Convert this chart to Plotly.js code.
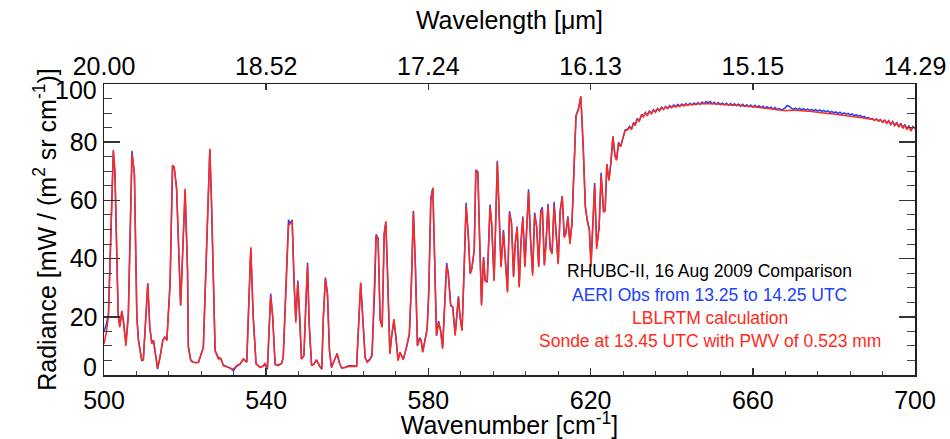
<!DOCTYPE html>
<html>
<head>
<meta charset="utf-8">
<script src="https://cdn.plot.ly/plotly-3.0.1.min.js"></script>
<style>html,body{margin:0;padding:0;background:#fff;}#chart{width:950px;height:439px;}</style>
</head>
<body>
<div id="chart"></div>
<script>
// Wavenumber [cm-1]
const wavenumber = [
500.0,500.5,501.1,501.7,502.3,502.7,503.5,503.9,504.4,504.8,505.4,506.0,506.9,507.5,508.1,508.5,509.3,509.7,510.8,511.3,
511.8,512.2,512.6,513.2,513.8,514.5,515.0,515.5,516.3,516.9,517.3,517.9,518.9,520.0,520.6,520.8,521.4,522.0,522.8,523.3,
524.5,525.3,526.1,526.5,527.4,528.2,528.8,529.4,530.2,531.1,531.9,532.7,533.5,534.4,535.2,536.2,536.8,537.5,538.5,539.1,
539.7,540.3,541.1,541.6,542.2,543.0,543.8,544.2,544.9,545.5,545.9,546.4,546.9,547.3,547.8,548.3,548.7,549.3,549.8,550.2,
550.6,551.2,551.8,552.4,553.1,553.7,554.1,554.6,555.1,555.6,556.1,557.0,557.5,558.0,558.6,559.4,560.3,561.1,562.3,562.8,
563.3,563.8,564.4,564.9,565.6,566.1,566.8,567.1,567.6,568.1,568.6,569.1,569.5,569.9,570.5,570.9,571.5,572.0,572.5,573.0,
573.4,573.8,574.6,575.3,575.8,576.3,576.8,577.3,577.8,578.2,578.6,579.2,579.7,580.1,580.6,581.1,581.6,582.0,582.5,583.0,
583.5,584.1,584.5,584.9,585.5,586.0,586.6,587.0,587.4,587.8,588.3,588.8,589.3,589.9,590.3,590.7,591.3,591.7,592.2,592.6,
593.1,593.6,594.0,594.5,595.2,595.6,596.2,597.0,597.4,597.9,598.5,598.9,599.5,600.0,600.5,601.0,601.4,601.9,602.4,602.8,
603.3,603.8,604.2,604.7,605.2,605.7,606.2,606.7,607.2,607.7,608.1,608.6,609.0,609.5,610.0,610.5,611.0,611.5,612.0,612.5,
613.0,613.5,613.9,614.4,614.9,615.4,615.9,616.4,617.0,617.6,618.2,618.7,619.2,619.7,620.1,620.5,621.0,621.5,622.1,622.6,
623.2,623.6,624.0,624.5,625.0,625.5,626.0,626.4,626.9,627.4,627.9,628.5,629.1,629.6,630.1,630.6,631.0,631.5,632.0,632.6,
633.0,633.5,634.0,634.5,635.0,635.5,636.0,636.5,637.0,637.5,638.0,638.5,639.0,639.5,640.0,640.5,641.0,641.5,642.0,642.5,
643.0,643.5,644.0,644.5,645.0,645.5,646.0,646.5,647.0,647.5,648.0,648.5,649.0,649.5,650.0,650.5,651.0,651.5,652.0,652.5,
653.0,653.5,654.0,654.5,655.0,655.5,656.0,656.5,657.0,657.5,658.0,658.5,659.0,659.5,660.0,660.5,661.0,661.5,662.0,662.5,
663.0,663.5,664.0,664.5,665.0,665.5,666.0,666.5,667.0,667.5,668.0,668.5,669.0,669.5,670.0,670.5,671.0,671.5,672.0,672.5,
673.0,673.5,674.0,674.5,675.0,675.5,676.0,676.5,677.0,677.5,678.0,678.5,679.0,679.5,680.0,680.5,681.0,681.5,682.0,682.5,
683.0,683.5,684.0,684.5,685.0,685.5,686.0,686.5,687.0,687.5,688.0,688.5,689.0,689.5,690.0,690.5,691.0,691.5,692.0,692.5,
693.0,693.5,694.0,694.5,695.0,695.5,696.0,696.5,697.0,697.5,698.0,698.5,699.0,699.5,700.0
];

// LBLRTM calculation [mW / (m2 sr cm-1)]
const lblrtm = [
10.7,14.0,20.0,50.0,77.3,70.0,20.0,16.4,22.0,18.7,10.0,20.0,76.0,69.0,20.0,11.8,5.2,5.2,31.3,16.4,
10.7,11.8,8.4,2.4,6.0,11.8,13.0,11.8,31.0,72.0,71.4,64.5,23.8,64.0,36.0,9.5,5.0,4.4,4.2,4.4,
9.5,42.7,77.7,60.0,8.4,5.5,5.8,3.2,2.9,2.4,2.0,3.2,3.8,5.5,4.4,43.9,20.0,3.8,2.6,2.9,
4.0,2.4,27.3,20.0,3.8,3.2,4.0,6.0,30.0,51.3,52.0,52.8,31.0,18.0,31.8,20.0,5.5,6.6,25.5,37.6,
17.5,3.2,3.8,5.2,3.2,2.0,20.0,33.0,27.8,8.4,2.6,6.0,7.4,4.4,2.4,2.6,2.9,2.9,2.9,17.5,
31.8,20.0,6.0,4.4,5.2,6.6,31.0,47.9,46.7,18.7,16.4,48.5,52.8,37.0,7.2,13.0,19.2,13.0,4.9,7.8,
6.6,5.2,9.5,14.0,31.0,56.2,37.0,10.0,12.4,11.8,7.8,13.0,15.8,29.0,60.0,64.3,40.4,13.5,18.0,15.2,
9.0,26.7,37.6,34.7,23.8,23.3,13.5,20.0,26.7,20.0,15.2,35.9,58.2,46.2,34.7,36.4,42.7,70.0,70.0,48.5,
23.8,40.2,32.4,31.8,57.8,52.0,32.4,73.0,55.3,37.0,49.0,40.4,28.4,55.6,52.0,33.6,45.0,50.7,30.1,45.0,
54.0,37.0,47.3,62.8,46.2,34.1,55.0,50.7,37.0,55.9,57.0,37.6,45.0,58.2,43.3,41.6,58.3,49.6,38.1,55.9,
61.3,47.3,48.5,54.0,45.0,51.9,72.5,89.1,91.4,95.8,77.7,57.6,53.0,49.6,37.2,51.9,65.0,43.3,50.7,68.5,
55.9,56.5,72.5,66.8,72.7,81.9,75.4,73.7,79.6,78.5,81.1,84.0,84.2,85.1,84.5,86.5,85.7,88.0,87.2,89.5,
88.8,90.0,89.2,90.6,89.8,91.0,90.3,91.4,90.8,91.8,91.3,92.1,91.6,92.3,91.9,92.5,92.1,92.6,92.3,92.8,
92.5,92.9,92.7,93.0,92.9,93.1,93.1,93.2,93.2,93.3,93.3,93.4,93.4,93.3,93.3,93.2,93.2,93.1,93.1,93.0,
93.0,92.9,92.9,92.8,92.8,92.7,92.7,92.6,92.6,92.5,92.5,92.4,92.4,92.3,92.2,92.1,92.1,92.0,91.9,91.8,
91.8,91.7,91.6,91.5,91.4,91.3,91.2,91.1,91.0,90.9,90.8,90.9,91.0,91.0,91.0,91.0,90.9,90.9,90.8,90.8,
90.7,90.6,90.6,90.5,90.4,90.4,90.3,90.2,90.1,90.1,90.0,89.9,89.8,89.8,89.7,89.6,89.5,89.4,89.4,89.3,
89.2,89.1,89.0,88.9,88.8,88.7,88.6,88.5,88.4,88.3,88.2,88.0,87.8,87.9,87.5,87.9,87.2,87.7,86.8,87.5,
86.5,87.3,86.1,87.0,85.7,86.6,85.2,86.3,84.7,86.0,84.3,85.6,83.8,85.3,84.6
];

// AERI observation [mW / (m2 sr cm-1)]
const aeri = [
15.0,17.0,21.0,52.0,77.0,69.0,21.0,17.0,22.0,18.0,11.0,21.0,77.0,69.0,20.0,12.0,5.0,5.2,31.5,16.0,
11.0,12.0,8.5,2.0,6.0,12.0,13.0,12.0,32.0,72.0,71.5,64.0,24.0,63.5,36.0,10.0,5.0,4.4,4.3,4.4,
9.5,42.0,77.5,60.0,8.4,6.0,5.6,3.5,2.9,2.4,1.5,3.0,3.6,5.5,4.4,43.5,20.0,3.8,2.6,3.0,
3.5,2.0,28.0,20.0,3.5,3.5,4.0,6.0,30.0,53.3,52.0,53.3,31.0,19.0,32.5,20.0,5.5,6.6,25.5,38.6,
17.5,3.2,3.8,5.2,3.2,2.0,20.0,33.5,28.0,8.4,2.6,6.0,7.4,4.4,2.4,2.6,3.2,3.2,3.0,17.5,
31.5,20.0,6.0,4.6,5.5,7.0,31.0,48.3,47.0,19.0,17.0,48.5,52.5,37.0,7.5,13.0,18.5,13.0,5.2,7.8,
6.8,5.4,9.5,14.0,31.0,56.4,37.0,10.0,12.8,12.0,8.0,13.0,16.0,29.0,61.0,64.3,40.4,13.5,18.5,15.5,
9.5,27.0,38.5,35.0,24.0,23.5,14.0,20.5,27.0,20.0,15.5,36.0,59.2,46.5,35.0,36.5,43.0,70.5,69.5,48.5,
24.5,40.5,32.5,32.0,58.6,52.0,32.5,73.6,55.5,37.5,49.8,40.5,29.0,56.3,52.0,34.0,45.0,51.0,30.5,45.0,
54.5,37.5,47.5,63.8,46.5,35.0,55.8,51.0,37.5,56.5,57.6,38.0,45.5,58.8,44.0,42.0,59.5,50.0,38.5,56.5,
61.5,47.5,49.0,54.5,45.5,52.0,72.5,89.0,91.4,95.6,77.5,58.0,53.0,50.0,38.0,52.0,66.0,44.0,51.0,69.5,
56.0,57.0,72.5,67.0,73.0,82.0,75.5,74.0,80.0,78.5,81.5,84.2,84.5,85.5,84.5,86.8,86.0,88.2,87.3,89.5,
88.8,90.2,89.3,90.7,89.9,91.2,90.4,91.6,90.9,92.0,91.3,92.3,91.6,92.6,91.9,92.8,92.2,93.0,92.4,93.1,
92.6,93.3,92.7,93.4,92.8,93.5,92.9,93.6,93.0,93.8,93.2,94.0,93.5,94.0,93.2,93.7,93.0,93.6,92.9,93.5,
92.8,93.4,92.7,93.3,92.6,93.2,92.5,93.1,92.4,93.0,92.3,92.9,92.2,92.8,92.1,92.7,92.0,92.5,91.9,92.4,
91.7,92.2,91.6,92.0,91.4,91.9,91.2,91.6,91.0,91.3,91.8,92.6,92.3,91.7,91.3,91.7,91.2,91.6,91.1,91.5,
91.0,91.4,90.9,91.3,90.8,91.2,90.7,91.1,90.6,90.9,90.4,90.8,90.2,90.6,90.1,90.4,89.9,90.3,89.7,90.1,
89.6,89.9,89.4,89.7,89.1,89.5,88.9,89.2,88.6,88.9,88.3,88.5,87.9,88.1,87.6,88.0,87.3,87.8,86.9,87.6,
86.5,87.4,86.1,87.1,85.7,86.8,85.3,86.5,84.9,86.1,84.5,85.7,84.0,85.4,84.8
];

// Bottom axis major ticks and their wavelength labels for the top axis
const majorWavenumbers = [500, 540, 580, 620, 660, 700];
const topTickLabels = ['20.00', '18.52', '17.24', '16.13', '15.15', '14.29'];

// Left-axis labels
const yTickValues = [0, 20, 40, 60, 80, 100];
const yTickLabels = ['0', '20', '40', '60', '80', '100'];

const legendLines = [
  'RHUBC-II, 16 Aug 2009 Comparison',
  'AERI Obs from 13.25 to 14.25 UTC',
  'LBLRTM calculation',
  'Sonde at 13.45 UTC with PWV of 0.523 mm'
];
const legendColors = ['#000000', '#2040ff', '#ff2a1a', '#ff2a1a'];
const legendY = [35.7, 27.5, 19.6, 11.7];

const BLUE = '#2040ff';
const RED = '#ff2a1a';
const FONT = 'Liberation Sans, Arial, Helvetica, sans-serif';
const TICK_SIZE = 25;
const TITLE_SIZE = 25;

const traces = [
  {x: wavenumber, y: aeri, type: 'scatter', mode: 'lines', line: {color: BLUE, width: 1.5}, name: 'AERI', hoverinfo: 'x+y'},
  {x: wavenumber, y: lblrtm, type: 'scatter', mode: 'lines', line: {color: RED, width: 1.5}, name: 'LBLRTM', hoverinfo: 'x+y'},
  {x: [majorWavenumbers[0], majorWavenumbers[majorWavenumbers.length-1]], y: [null, null], xaxis: 'x2', yaxis: 'y',
   type: 'scatter', mode: 'lines', showlegend: false, hoverinfo: 'skip'}
];

const annotations = legendLines.map((t, i) => ({
  text: t, x: 649.4, y: legendY[i], xref: 'x', yref: 'y', showarrow: false,
  xanchor: 'center', yanchor: 'middle', font: {family: FONT, size: 17.5, color: legendColors[i]}
}));

// End labels of the y axis sit slightly inside the frame, as in the original
const endIdx = [0, yTickValues.length - 1];
const endOffsets = [2.7, -2.1];
endIdx.forEach((k, j) => {
  annotations.push({
    text: yTickLabels[k], x: 0, xref: 'paper', y: yTickValues[k] + endOffsets[j], yref: 'y',
    xanchor: 'right', yanchor: 'middle', xshift: -5, showarrow: false,
    font: {family: FONT, size: TICK_SIZE, color: '#000'}
  });
});
const yTickTextShown = yTickLabels.map((t, k) => endIdx.includes(k) ? '' : t);

const layout = {
  width: 950, height: 439,
  margin: {l: 104, r: 35, t: 84, b: 64, pad: 0},
  paper_bgcolor: '#ffffff', plot_bgcolor: '#ffffff',
  showlegend: false,
  font: {family: FONT, color: '#000'},
  xaxis: {
    range: [500, 700], tickmode: 'array', tickvals: majorWavenumbers,
    ticks: 'inside', ticklen: 7, tickwidth: 1.5, tickcolor: '#333',
    showline: true, linecolor: '#222', linewidth: 1.5, mirror: true,
    showgrid: false, zeroline: false,
    tickfont: {family: FONT, size: TICK_SIZE, color: '#000'},
    ticklabelstandoff: 2,
    minor: {dtick: 8, tick0: 500, ticks: 'inside', ticklen: 4, tickwidth: 1, tickcolor: '#444'},
    title: {text: 'Wavenumber [cm<sup>-1</sup>]', font: {family: FONT, size: TITLE_SIZE, color: '#000'}, standoff: 7},
    automargin: false
  },
  xaxis2: {
    overlaying: 'x', side: 'top', anchor: 'y',
    range: [500, 700], tickmode: 'array', tickvals: majorWavenumbers, ticktext: topTickLabels,
    ticks: 'inside', ticklen: 6, tickwidth: 1.5, tickcolor: '#333',
    showline: false, showgrid: false, zeroline: false,
    tickfont: {family: FONT, size: TICK_SIZE, color: '#000'},
    ticklabelstandoff: 3,
    title: {text: 'Wavelength [μm]', font: {family: FONT, size: TITLE_SIZE, color: '#000'}, standoff: 15},
    automargin: false
  },
  yaxis: {
    range: [0, 100], tickmode: 'array', tickvals: yTickValues, ticktext: yTickTextShown,
    ticks: 'inside', ticklen: 16, tickwidth: 1.5, tickcolor: '#333',
    showline: true, linecolor: '#222', linewidth: 1.5, mirror: 'ticks',
    showgrid: false, zeroline: false,
    tickfont: {family: FONT, size: TICK_SIZE, color: '#000'},
    minor: {dtick: 5, tick0: 0, ticks: 'inside', ticklen: 8, tickwidth: 1, tickcolor: '#444'},
    title: {text: 'Radiance [mW / (m<sup>2</sup> sr cm<sup>-1</sup>)]', font: {family: FONT, size: TITLE_SIZE, color: '#000'}, standoff: 6},
    automargin: false
  },
  annotations: annotations
};

Plotly.newPlot('chart', traces, layout, {staticPlot: true, displayModeBar: false});
</script>
</body>
</html>
